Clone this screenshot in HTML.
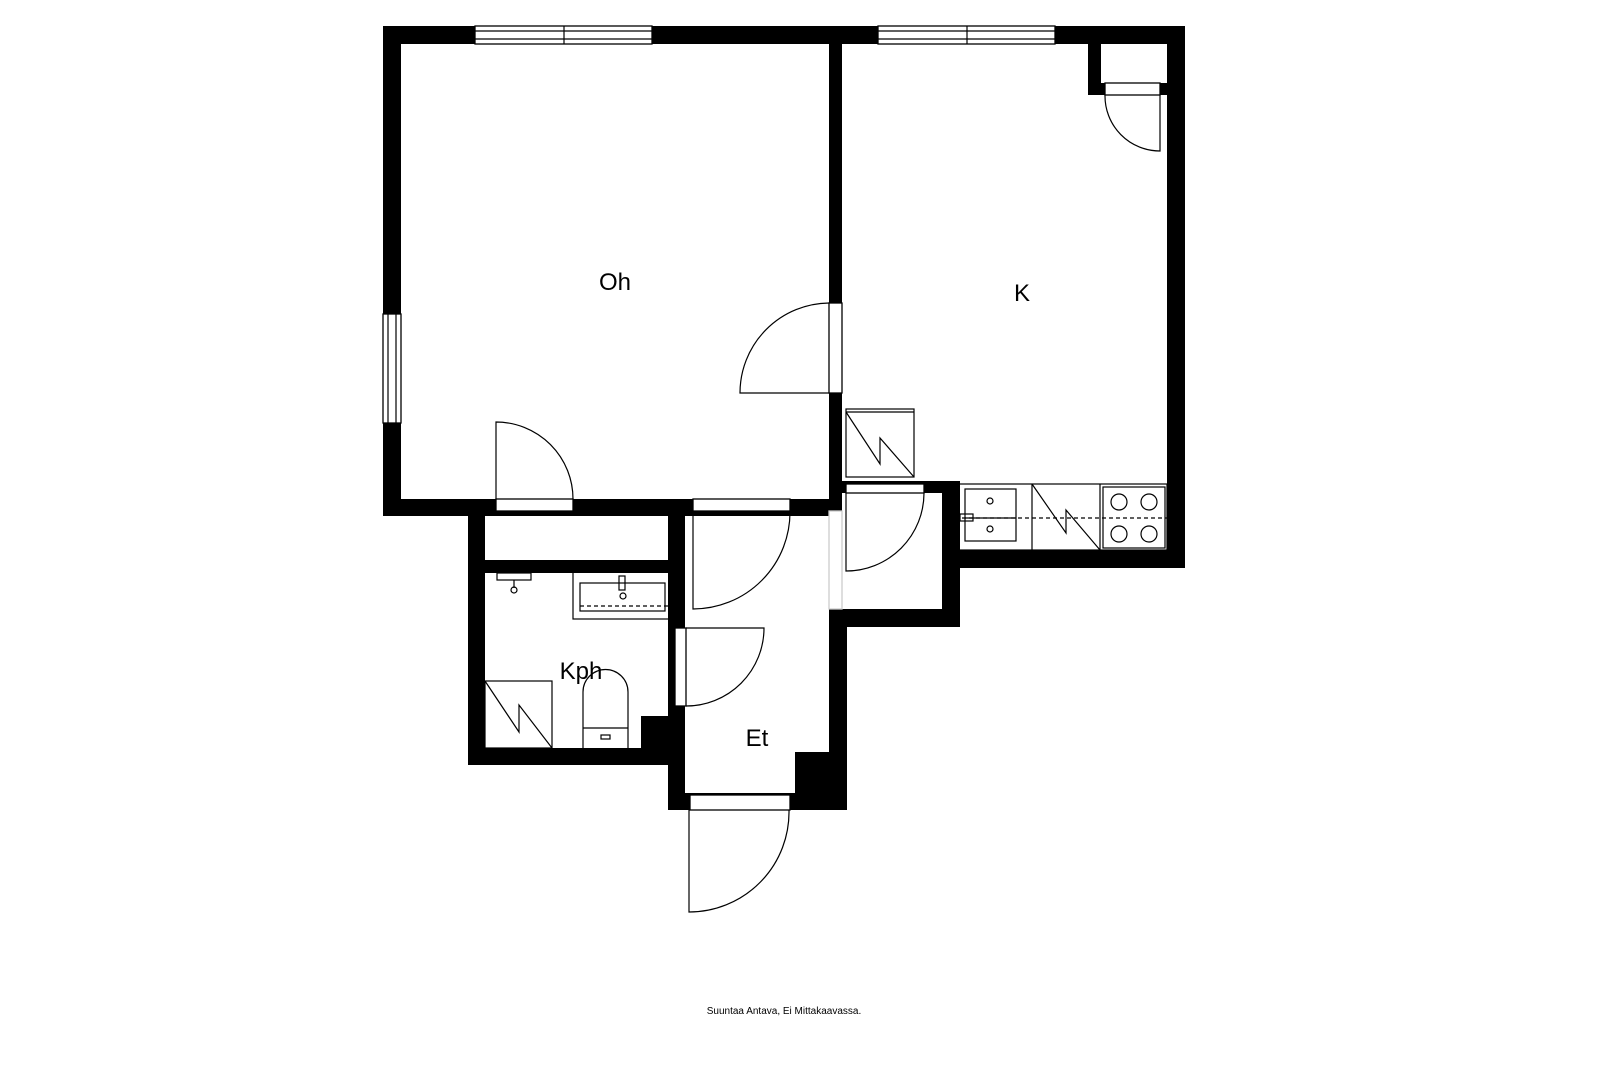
<!DOCTYPE html>
<html><head><meta charset="utf-8"><style>
html,body{margin:0;padding:0;background:#fff;}
svg{display:block;}
text{font-family:"Liberation Sans",sans-serif;fill:#000;}
</style></head><body>
<svg width="1600" height="1066" viewBox="0 0 1600 1066" xmlns="http://www.w3.org/2000/svg">
<g fill="#000">
<!-- outer top -->
<rect x="383" y="26" width="802" height="18"/>
<rect x="383" y="26" width="18" height="490"/>
<rect x="1167" y="26" width="18" height="542"/>
<rect x="829" y="44" width="13" height="466"/>
<rect x="383" y="499" width="459" height="17"/>
<!-- bath -->
<rect x="468" y="499" width="17" height="266"/>
<rect x="468" y="748" width="217" height="17"/>
<rect x="668" y="499" width="17" height="311"/>
<rect x="485" y="560" width="190" height="13"/>
<rect x="641" y="716" width="44" height="49"/>
<!-- hall -->
<rect x="829" y="610" width="18" height="200"/>
<rect x="668" y="793" width="179" height="17"/>
<rect x="795" y="752" width="52" height="58"/>
<!-- closet -->
<rect x="842" y="481" width="113" height="12"/>
<rect x="942" y="481" width="18" height="146"/>
<rect x="829" y="609" width="131" height="18"/>
<rect x="942" y="550" width="243" height="18"/>
<rect x="942" y="481" width="13" height="87"/>
<!-- K closet -->
<rect x="1088" y="44" width="13" height="51"/>
<rect x="1088" y="83" width="17" height="12"/>
<rect x="1160" y="83" width="7" height="12"/>
</g>
<g fill="#fff" stroke="#000" stroke-width="1.3">
<!-- windows -->
<rect x="475" y="26" width="177" height="18"/>
<rect x="878" y="26" width="177" height="18"/>
<rect x="383" y="314" width="18" height="109"/>
<!-- door panes -->
<rect x="829" y="303" width="13" height="90"/>
<rect x="496" y="499" width="77" height="12"/>
<rect x="693" y="499" width="97" height="12"/>
<rect x="675" y="628" width="11" height="78"/>
<rect x="690" y="795" width="100" height="15"/>
<rect x="846" y="484" width="78" height="9"/>
<rect x="1105" y="83" width="55" height="12"/>
<rect x="829" y="511" width="13" height="98" stroke="#ccc"/>
</g>
<g stroke="#000" stroke-width="1.2" fill="none">
<line x1="475" y1="31" x2="652" y2="31"/><line x1="475" y1="39" x2="652" y2="39"/><line x1="564" y1="26" x2="564" y2="44"/>
<line x1="878" y1="31" x2="1055" y2="31"/><line x1="878" y1="39" x2="1055" y2="39"/><line x1="967" y1="26" x2="967" y2="44"/>
<line x1="388" y1="314" x2="388" y2="423"/><line x1="396" y1="314" x2="396" y2="423"/>
<!-- door leaves and arcs -->
<path d="M829 303 A90 90 0 0 0 740 393 L829 393"/>
<path d="M496 499 L496 422 A77 77 0 0 1 573 499"/>
<path d="M693 511 L693 609 A97 97 0 0 0 790 511"/>
<path d="M686 628 L764 628 A78 78 0 0 1 686 706"/>
<path d="M689 810 L689 912 A100 100 0 0 0 789 810"/>
<path d="M846 493 L846 571 A78 78 0 0 0 924 493"/>
<path d="M1160 95 L1160 151 A55 55 0 0 1 1105 95"/>
<!-- fridge -->
<rect x="846" y="409" width="68" height="68"/><line x1="846" y1="412" x2="914" y2="412"/>
<path d="M846 412 L880 464 L880 438 L914 477"/>
<!-- counter -->
<rect x="955" y="484" width="212" height="66"/>
<line x1="1032" y1="484" x2="1032" y2="550"/><line x1="1100" y1="484" x2="1100" y2="550"/>
<rect x="965" y="489" width="51" height="52"/>
<line x1="965" y1="518" x2="1016" y2="518"/>
<circle cx="990" cy="501" r="3"/><circle cx="990" cy="529" r="3"/>
<path d="M1032 484 L1066 533 L1066 510 L1100 550"/>
<rect x="1103" y="487" width="62" height="61"/>
<circle cx="1119" cy="502" r="8"/><circle cx="1149" cy="502" r="8"/>
<circle cx="1119" cy="534" r="8"/><circle cx="1149" cy="534" r="8"/>
<line x1="955" y1="518" x2="1167" y2="518" stroke-dasharray="4,3"/>
<rect x="960" y="514" width="13" height="7"/>
<!-- bath -->
<rect x="573" y="572" width="102" height="47"/>
<rect x="580" y="583" width="85" height="28"/>
<rect x="619" y="576" width="6" height="14"/>
<circle cx="623" cy="596" r="3"/>
<line x1="580" y1="606" x2="675" y2="606" stroke-dasharray="4,3"/>
<rect x="497" y="573" width="34" height="7"/>
<path d="M514 580 L514 588"/><circle cx="514" cy="590" r="3"/>
<rect x="485" y="681" width="67" height="67"/>
<path d="M485 681 L519 732 L519 705 L552 748"/>
<path d="M583 748 L583 692 A22.5 22.5 0 0 1 628 692 L628 748"/>
<line x1="583" y1="728" x2="628" y2="728"/>
<rect x="601" y="735" width="9" height="4"/>
</g>
<text x="615" y="290" font-size="24" text-anchor="middle">Oh</text>
<text x="1022" y="301" font-size="24" text-anchor="middle">K</text>
<text x="581" y="679" font-size="24" text-anchor="middle">Kph</text>
<text x="757" y="746" font-size="24" text-anchor="middle">Et</text>
<text x="784" y="1014" font-size="10" text-anchor="middle">Suuntaa Antava, Ei Mittakaavassa.</text>
</svg>
</body></html>
